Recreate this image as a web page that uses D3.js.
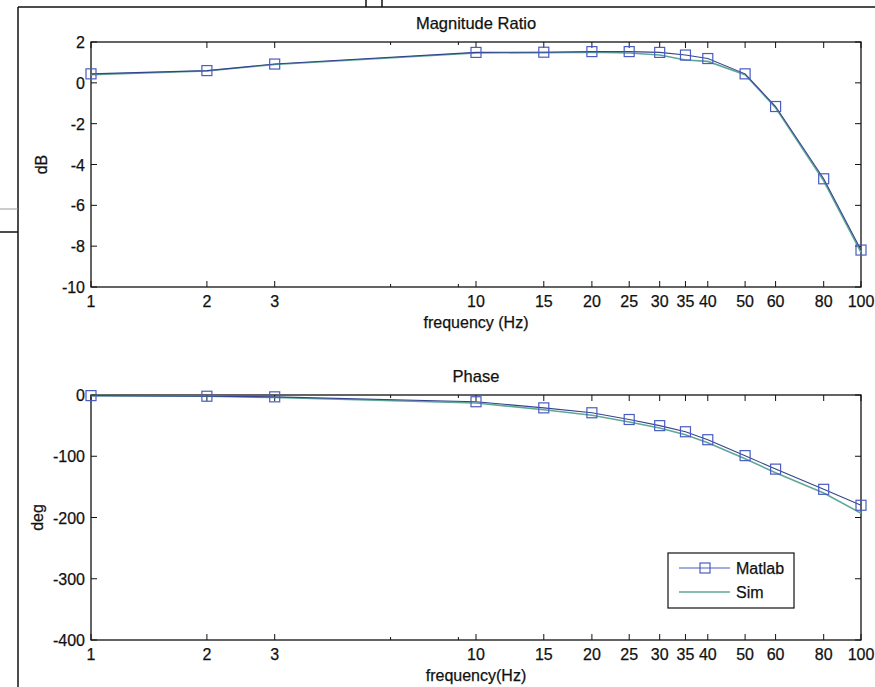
<!DOCTYPE html>
<html><head><meta charset="utf-8">
<script src="https://cdn.jsdelivr.net/npm/d3@7"></script>
<style>body{margin:0;background:#fff}svg{display:block}text{font-family:"Liberation Sans",Arial,sans-serif;fill:#111;stroke:#111;stroke-width:0.25}</style>
</head><body><svg id="c" width="875" height="687"></svg>
<script>
const freqs = [1,2,3,10,15,20,25,30,35,40,50,60,80,100];
const xTickLabels = [1,2,3,10,15,20,25,30,35,40,50,60,80,100];
const xMinorTicks = [6,9];
const magMatlab = [0.44,0.6,0.92,1.49,1.5,1.53,1.53,1.49,1.36,1.19,0.44,-1.16,-4.7,-8.19];
const magSim    = [0.40,0.58,0.90,1.46,1.48,1.5,1.46,1.36,1.12,1.05,0.40,-1.22,-4.8,-8.3];
const phMatlab  = [-1,-2,-3,-11,-21,-29,-40,-50,-60,-73,-99,-121,-154,-180];
const phSim     = [-1,-2,-4,-13,-24,-33,-44,-54,-65,-78,-104,-127,-160,-193];
const magTicks = [2,0,-2,-4,-6,-8,-10];
const phTicks = [0,-100,-200,-300,-400];

const svg = d3.select("#c");
const x = d3.scaleLog().domain([1,100]).range([91,861]);
const matlabColor = "#34448e", markerColor = "#4a5cc0", simColor = "#5fa898";

function panel(cfg){
  const y = d3.scaleLinear().domain(cfg.domain).range(cfg.range);
  const g = svg.append("g");
  const [y0,y1] = cfg.range;
  g.append("rect").attr("x",91).attr("y",y1).attr("width",770).attr("height",y0-y1)
    .attr("fill","none").attr("stroke","#111").attr("stroke-width",1.3);
  const allX = xTickLabels.concat(xMinorTicks);
  allX.forEach(v=>{
    const len = xMinorTicks.includes(v)?3:6;
    g.append("line").attr("x1",x(v)).attr("x2",x(v)).attr("y1",y0).attr("y2",y0-len).attr("stroke","#111");
    g.append("line").attr("x1",x(v)).attr("x2",x(v)).attr("y1",y1).attr("y2",y1+len).attr("stroke","#111");
  });
  xTickLabels.forEach(v=>{
    g.append("text").attr("x",x(v)).attr("y",y0+20).attr("text-anchor","middle").attr("font-size",16).text(v);
  });
  cfg.ticks.forEach(v=>{
    g.append("line").attr("x1",91).attr("x2",97).attr("y1",y(v)).attr("y2",y(v)).attr("stroke","#111");
    g.append("line").attr("x1",861).attr("x2",855).attr("y1",y(v)).attr("y2",y(v)).attr("stroke","#111");
    g.append("text").attr("x",85).attr("y",y(v)+6).attr("text-anchor","end").attr("font-size",16).text(v);
  });
  g.append("text").attr("x",476).attr("y",y1-13).attr("text-anchor","middle").attr("font-size",16.5).text(cfg.title);
  g.append("text").attr("x",476).attr("y",y0+41).attr("text-anchor","middle").attr("font-size",16).text(cfg.xlabel);
  g.append("text").attr("transform",`translate(${cfg.ylx},${(y0+y1)/2}) rotate(-90)`).attr("text-anchor","middle").attr("font-size",16).text(cfg.ylabel);
  const line = d3.line().x((d,i)=>x(freqs[i])).y(d=>y(d));
  g.append("path").datum(cfg.sim).attr("d",line).attr("fill","none").attr("stroke",simColor).attr("stroke-width",1.6);
  g.append("path").datum(cfg.mat).attr("d",line).attr("fill","none").attr("stroke",matlabColor).attr("stroke-width",1.1);
  g.selectAll("rect.m").data(cfg.mat).enter().append("rect").attr("class","m")
    .attr("x",(d,i)=>x(freqs[i])-5).attr("y",d=>y(d)-5).attr("width",10).attr("height",10)
    .attr("fill","none").attr("stroke",markerColor).attr("stroke-width",1.2);
}
panel({domain:[-10,2],range:[287,42],ticks:magTicks,title:"Magnitude Ratio",xlabel:"frequency (Hz)",ylabel:"dB",ylx:47,mat:magMatlab,sim:magSim});
panel({domain:[-400,0],range:[640,395],ticks:phTicks,title:"Phase",xlabel:"frequency(Hz)",ylabel:"deg",ylx:43,mat:phMatlab,sim:phSim});

const lg = svg.append("g");
lg.append("rect").attr("x",668).attr("y",553).attr("width",126).attr("height",55).attr("fill","#fff").attr("stroke","#111").attr("stroke-width",1.2);
lg.append("line").attr("x1",679).attr("x2",730).attr("y1",568).attr("y2",568).attr("stroke",markerColor).attr("stroke-width",1.1);
lg.append("rect").attr("x",700).attr("y",563).attr("width",10).attr("height",10).attr("fill","none").attr("stroke",markerColor).attr("stroke-width",1.2);
lg.append("line").attr("x1",679).attr("x2",730).attr("y1",592).attr("y2",592).attr("stroke",simColor).attr("stroke-width",1.4);
lg.append("text").attr("x",736).attr("y",574).attr("font-size",16).text("Matlab");
lg.append("text").attr("x",736).attr("y",598).attr("font-size",16).text("Sim");

const fr = svg.append("g").attr("stroke","#111").attr("stroke-width",1.5);
fr.append("line").attr("x1",18).attr("x2",875).attr("y1",7).attr("y2",7);
fr.append("line").attr("x1",18).attr("x2",18).attr("y1",7).attr("y2",687);
fr.append("line").attr("x1",366).attr("x2",366).attr("y1",0).attr("y2",7);
fr.append("line").attr("x1",382).attr("x2",382).attr("y1",0).attr("y2",7);
fr.append("line").attr("x1",0).attr("x2",18).attr("y1",232).attr("y2",232);
fr.append("line").attr("x1",0).attr("x2",18).attr("y1",209).attr("y2",209).attr("stroke","#999").attr("stroke-width",1);
</script></body></html>
